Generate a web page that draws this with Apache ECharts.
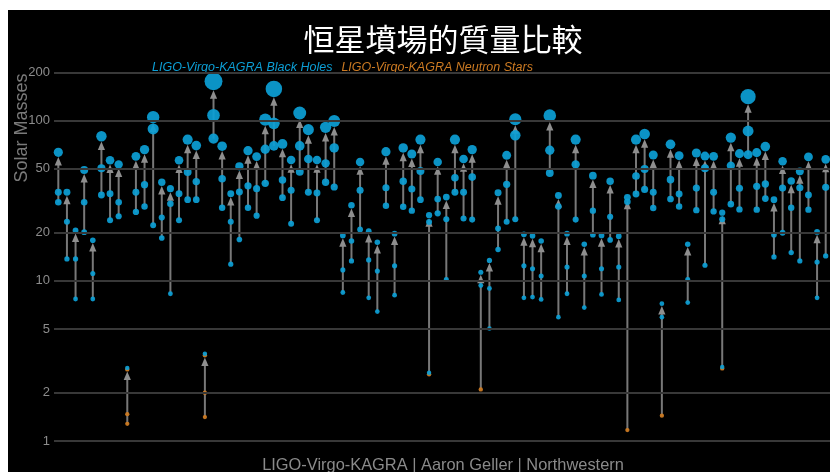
<!DOCTYPE html>
<html><head><meta charset="utf-8">
<script src="https://cdn.jsdelivr.net/npm/echarts@6/dist/echarts.min.js"></script>
<style>
html,body{margin:0;padding:0;background:#fff;}
#bg{position:absolute;left:8px;top:10px;width:822px;height:462px;background:#000;}
#c{position:absolute;left:0;top:0;width:830px;height:472px;}
</style>
</head><body><div id="bg"></div><div id="c"></div>
<script>
const events = ['GW150914','GW151012','GW151226','GW170104','GW170608','GW170729','GW170809','GW170814','GW170817','GW170818','GW170823',
'GW190403_051519','GW190408_181802','GW190412','GW190413_052954','GW190413_134308','GW190421_213856','GW190425','GW190426_190642','GW190503_185404','GW190512_180714','GW190513_205428','GW190514_065416','GW190517_055101','GW190519_153544','GW190521','GW190521_074359','GW190527_092055','GW190602_175927','GW190620_030421','GW190630_185205','GW190701_203306','GW190706_222641','GW190707_093326','GW190708_232457','GW190719_215514','GW190720_000836','GW190725_174728','GW190727_060333','GW190728_064510','GW190731_140936','GW190803_022701','GW190805_211137','GW190814','GW190828_063405','GW190828_065509','GW190910_112807','GW190915_235702','GW190916_200658','GW190917_114630','GW190924_021846','GW190925_232845','GW190926_050336','GW190929_012149','GW190930_133541',
'GW191103_012549','GW191105_143521','GW191109_010717','GW191113_071753','GW191126_115259','GW191127_050227','GW191129_134029','GW191204_110529','GW191204_171526','GW191215_223052','GW191216_213338','GW191219_163120','GW191222_033537','GW191230_180458','GW200112_155838','GW200115_042309','GW200128_022011','GW200129_065458','GW200202_154313','GW200208_130117','GW200208_222617','GW200209_085452','GW200210_092254','GW200216_220804','GW200219_094415','GW200220_061928','GW200220_124850','GW200224_222234','GW200225_060421','GW200302_015811','GW200306_093714','GW200308_173609','GW200311_115853','GW200316_215756','GW200322_091133'];

const finalMass = [63.4,35.7,20.6,49.2,17.9,79.8,56.5,53.3,2.8,59.8,65.9,
105,41.2,37.6,56.5,76.1,69.8,3.43,176,69.2,35.0,51.8,64.9,59.6,101.4,157.7,71.5,56.8,111.6,87.8,56.8,90.8,99.5,19.2,29.6,55.2,20.4,17.4,64.0,19.7,67.5,61.9,76.1,25.7,55.2,33.3,76.1,57.6,65.9,11.3,13.4,35.5,60.7,101.9,19.5,
19.1,17.7,107.4,34.1,19.7,76.1,16.9,45.3,19.2,41.8,19.0,33.2,76.1,82.5,61.0,7.2,71.1,60.4,16.9,62.8,60.1,59.8,26.6,78.3,62.2,141,63.1,68.8,32.1,55.7,42.0,48.2,59.3,20.2,57.3];

const mass1 = [35.7,23.4,13.7,30.9,11.1,50.4,35.0,30.9,1.47,35.7,39.8,
88.7,24.8,30.3,35.0,47.8,41.6,2.0,108,43.4,23.4,35.8,39.2,37.6,66.2,96.2,42.6,36.7,69.5,57.6,35.3,54.1,67.5,11.7,17.7,36.7,13.5,11.5,38.1,12.4,41.8,37.4,48.4,23.3,32.4,24.2,44.0,35.7,44.4,9.35,8.96,21.2,40.0,81.0,12.4,
11.9,10.7,65.3,29.1,12.2,53.3,10.7,27.4,11.9,25.1,12.2,31.1,45.1,49.9,35.7,5.93,42.8,34.8,10.2,37.9,50.4,35.7,24.2,52.3,37.8,86.1,38.9,40.2,19.4,37.9,28.6,38.1,34.3,13.1,38.3];

const mass2 = [30.9,13.7,7.7,20.1,7.7,34.3,23.9,25.3,1.28,26.9,29.1,
22.2,18.5,8.3,23.9,32.1,32.1,1.41,77.2,28.6,12.7,18.1,28.6,25.5,40.6,69.5,33.0,22.7,48.0,35.7,23.9,41.2,38.5,8.45,13.3,20.9,7.83,6.43,29.4,8.14,29.0,27.4,32.1,2.61,26.4,10.2,35.7,24.5,24.1,2.10,5.04,15.7,23.4,24.2,7.83,
7.91,7.65,47.1,5.93,8.3,24.1,6.81,19.4,8.22,18.0,7.6,1.17,34.8,37.2,28.5,1.44,32.4,29.1,7.32,27.6,12.5,27.1,2.84,30.1,27.9,61.3,27.8,32.6,14.1,19.95,15.0,13.3,27.8,7.83,14.3];

// event classes (all others are binary black holes)
const bnsEvents = ['GW170817','GW190425'];
const nsbhEvents = ['GW190917_114630','GW191219_163120','GW200115_042309'];
const massGapEvents = ['GW190814','GW200210_092254'];

const yTicks = [1,2,5,10,20,50,100,200];
const titleText = '恒星墳場的質量比較';
const bhName = 'LIGO-Virgo-KAGRA Black Holes';
const nsName = 'LIGO-Virgo-KAGRA Neutron Stars';
const yTitle = 'Solar Masses';
const footer = 'LIGO-Virgo-KAGRA | Aaron Geller | Northwestern';

const BLUE = '#0c9fd6';
const ORANGE = '#cc7a22';
const sizeOf = m => 4.2 + 0.078 * m;

const bhData = [], nsData = [], arrowData = [];
const up = { symbolOffset: [0, -1.5] };
events.forEach((ev, i) => {
  const f = finalMass[i], a = mass1[i], b = mass2[i];
  arrowData.push([i, b, f]);
  if (bnsEvents.includes(ev)) {
    nsData.push([i, b], [i, a], [i, f]);
    bhData.push(Object.assign({ value: [i, f] }, up));
  } else if (nsbhEvents.includes(ev)) {
    nsData.push([i, b]);
    bhData.push([i, a], [i, f]);
  } else if (massGapEvents.includes(ev)) {
    nsData.push([i, b]);
    bhData.push(Object.assign({ value: [i, b] }, up), [i, a], [i, f]);
  } else {
    bhData.push([i, b], [i, a], [i, f]);
  }
});

const chart = echarts.init(document.getElementById('c'), null, { renderer: 'canvas' });
chart.setOption({
  backgroundColor: 'transparent',
  animation: false,
  grid: { left: 54, right: 0, top: 60, bottom: 20 },
  xAxis: { type: 'category', data: events, boundaryGap: true, show: false },
  yAxis: { type: 'log', logBase: 10, min: 0.854, max: 238.9,
    axisLine: { show: false }, axisTick: { show: false }, axisLabel: { show: false }, splitLine: { show: false } },
  legend: {
    left: 142, top: 56, itemWidth: 0, itemHeight: 14, itemGap: 4, padding: 5,
    selectedMode: false,
    itemStyle: { opacity: 0 },
    textStyle: { fontSize: 12.5, fontStyle: 'italic', fontFamily: 'Liberation Sans, Arial, sans-serif' },
    data: [ { name: bhName, textStyle: { color: BLUE } }, { name: nsName, textStyle: { color: ORANGE } } ]
  },
  graphic: [
    { type: 'text', x: 443, y: 39, style: { text: titleText, fill: '#ffffff', fontSize: 31, fontFamily: 'Noto Sans CJK TC, sans-serif', align: 'center', verticalAlign: 'middle' } },
    { type: 'text', x: 22, y: 128, rotation: Math.PI / 2, style: { text: yTitle, fill: '#7a7a7a', fontSize: 18, fontFamily: 'Liberation Sans, Arial, sans-serif', align: 'center', verticalAlign: 'middle' } },
    { type: 'text', x: 443, y: 465, style: { text: footer, fill: '#8a8a8a', fontSize: 16.4, fontFamily: 'Liberation Sans, Arial, sans-serif', align: 'center', verticalAlign: 'middle' } }
  ],
  series: [
    { name: 'grid', type: 'line', data: [], z: 0, silent: true,
      markLine: { silent: true, symbol: 'none', animation: false,
        lineStyle: { color: '#383838', width: 2, type: 'solid' },
        label: { show: true, position: 'start', distance: 4, color: '#8c8c8c', fontSize: 13, fontFamily: 'Liberation Sans, Arial, sans-serif', formatter: p => String(p.value) },
        emphasis: { disabled: true },
        data: yTicks.map(v => ({ yAxis: v })) } },
    { name: 'arrows', type: 'custom', z: 1, silent: true, clip: false,
      data: arrowData, encode: { x: 0, y: [1, 2] },
      renderItem: (params, api) => {
        const i = api.value(0);
        const lo = api.coord([i, api.value(1)]);
        const hi = api.coord([i, api.value(2)]);
        const r = sizeOf(api.value(2)) / 2;
        const tipY = hi[1] + r;
        const baseY = tipY + 7.5;
        return { type: 'group', children: [
          { type: 'line', shape: { x1: lo[0], y1: lo[1], x2: lo[0], y2: baseY }, style: { stroke: 'rgba(150,150,150,0.8)', lineWidth: 2 } },
          { type: 'polygon', shape: { points: [[hi[0], tipY], [hi[0] - 3.6, baseY + 1], [hi[0] + 3.6, baseY + 1]] }, style: { fill: '#8e8e8e' } }
        ] };
      } },
    { name: nsName, type: 'scatter', z: 3, data: nsData, symbol: 'circle',
      symbolSize: v => sizeOf(v[1]), itemStyle: { color: ORANGE, opacity: 0.95 }, emphasis: { disabled: true } },
    { name: bhName, type: 'scatter', z: 4, data: bhData, symbol: 'circle',
      symbolSize: v => sizeOf(v[1]), itemStyle: { color: BLUE, opacity: 0.92 }, emphasis: { disabled: true } }
  ]
});
</script></body></html>
